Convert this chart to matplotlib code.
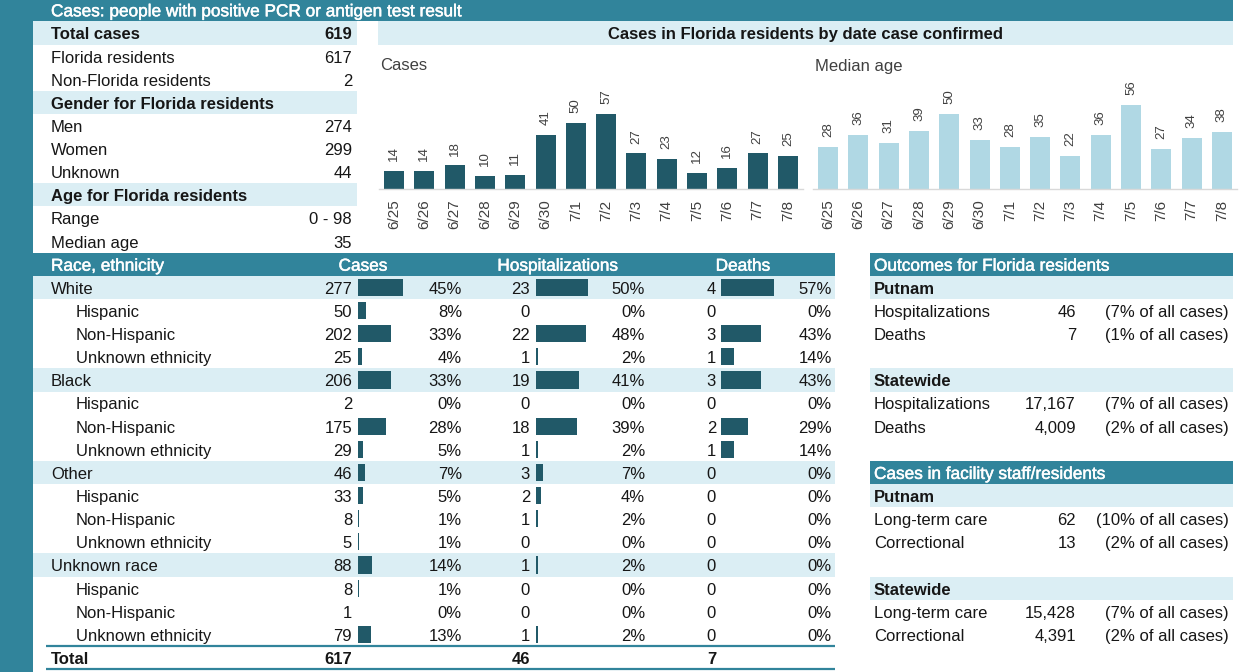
import matplotlib
matplotlib.use('Agg')
import matplotlib.pyplot as plt
import matplotlib.patheffects as pe
from matplotlib.patches import Rectangle

plt.rcParams['font.family'] = ['Liberation Sans', 'DejaVu Sans']

# ---------------- data ----------------
title_text = "Cases: people with positive PCR or antigen test result"
summary_labels = ["Total cases", "Florida residents", "Non-Florida residents",
                  "Gender for Florida residents", "Men", "Women", "Unknown",
                  "Age for Florida residents", "Range", "Median age"]
summary_values = ["619", "617", "2", "", "274", "299", "44", "", "0 - 98", "35"]
summary_headers = [0, 3, 7]

chart_title = "Cases in Florida residents by date case confirmed"
dates = ["6/25", "6/26", "6/27", "6/28", "6/29", "6/30", "7/1", "7/2",
         "7/3", "7/4", "7/5", "7/6", "7/7", "7/8"]
daily_cases = [14, 14, 18, 10, 11, 41, 50, 57, 27, 23, 12, 16, 27, 25]
median_age = [28, 36, 31, 39, 50, 33, 28, 35, 22, 36, 56, 27, 34, 38]

race_labels = ["White", "Hispanic", "Non-Hispanic", "Unknown ethnicity",
               "Black", "Hispanic", "Non-Hispanic", "Unknown ethnicity",
               "Other", "Hispanic", "Non-Hispanic", "Unknown ethnicity",
               "Unknown race", "Hispanic", "Non-Hispanic", "Unknown ethnicity"]
race_level = [0, 1, 1, 1, 0, 1, 1, 1, 0, 1, 1, 1, 0, 1, 1, 1]
race_cases = [277, 50, 202, 25, 206, 2, 175, 29, 46, 33, 8, 5, 88, 8, 1, 79]
race_cases_pct = [45, 8, 33, 4, 33, 0, 28, 5, 7, 5, 1, 1, 14, 1, 0, 13]
race_hosp = [23, 0, 22, 1, 19, 0, 18, 1, 3, 2, 1, 0, 1, 0, 0, 1]
race_hosp_pct = [50, 0, 48, 2, 41, 0, 39, 2, 7, 4, 2, 0, 2, 0, 0, 2]
race_deaths = [4, 0, 3, 1, 3, 0, 2, 1, 0, 0, 0, 0, 0, 0, 0, 0]
race_deaths_pct = [57, 0, 43, 14, 43, 0, 29, 14, 0, 0, 0, 0, 0, 0, 0, 0]
race_totals = [617, 46, 7]

outcome_labels = ["Hospitalizations", "Deaths"]
putnam_outcomes = [46, 7]
putnam_outcomes_pct = [7, 1]
state_outcomes = [17167, 4009]
state_outcomes_pct = [7, 2]

facility_labels = ["Long-term care", "Correctional"]
putnam_facility = [62, 13]
putnam_facility_pct = [10, 2]
state_facility = [15428, 4391]
state_facility_pct = [7, 2]

# ---------------- style ----------------
W, H = 1247, 672
ROW0, RH = 21.44, 23.13
TEAL = '#31849b'
DARK = '#215968'
LIGHT = '#dbeef4'
LBAR = '#b0d8e4'
TXT = '#161616'
GRAY = '#404040'
FS = 12
BASE_OFF = 6.4

fig = plt.figure(figsize=(W / 100, H / 100), dpi=100)
bg = fig.add_axes([0, 0, 1, 1])
bg.set_xlim(0, W)
bg.set_ylim(H, 0)
bg.axis('off')


def rc(k):
    return ROW0 + RH * (k + 0.5)


def band(x0, x1, k0, k1, color):
    bg.add_patch(Rectangle((x0, ROW0 + RH * k0), x1 - x0, RH * (k1 - k0),
                           facecolor=color, edgecolor='none', lw=0))


def txt(x, k, s, ha='left', color=TXT, weight='normal', size=FS):
    bg.text(x, rc(k) + BASE_OFF, s, ha=ha, va='baseline', color=color,
            fontweight=weight, fontsize=size)


def htxt(x, k, s, ha='left'):
    bg.text(x, rc(k) + BASE_OFF, s, ha=ha, va='baseline', color='white',
            fontsize=12.4,
            path_effects=[pe.withStroke(linewidth=0.35, foreground='white')])


def px_axes(x0, y0, w, h):
    return fig.add_axes([x0 / W, 1 - (y0 + h) / H, w / W, h / H])


# frame
bg.add_patch(Rectangle((0, 0), 33, H, facecolor=TEAL, edgecolor='none'))
bg.add_patch(Rectangle((0, 0), 1233, ROW0, facecolor=TEAL, edgecolor='none'))
htxt(51, -1, title_text)

# summary table
for k in summary_headers:
    band(33, 357, k, k + 1, LIGHT)
for k, (lab, val) in enumerate(zip(summary_labels, summary_values)):
    bold = k in summary_headers
    txt(51, k, lab, weight='bold' if bold else 'normal')
    if val:
        txt(352, k, val, ha='right', weight='bold' if k == 0 else 'normal')

# chart header
band(378, 1233, 0, 1, LIGHT)
txt(805, 0, chart_title, ha='center', weight='bold')
bg.text(380, 66, "Cases", ha='left', va='center', color=GRAY, fontsize=FS)
bg.text(815, 66, "Median age", ha='left', va='center', color=GRAY, fontsize=FS)

# race table
band(0, 835, 10, 11, TEAL)
htxt(51, 10, "Race, ethnicity")
htxt(363, 10, "Cases", ha='center')
htxt(558, 10, "Hospitalizations", ha='center')
htxt(743, 10, "Deaths", ha='center')
for i, lab in enumerate(race_labels):
    k = 11 + i
    if race_level[i] == 0:
        band(33, 835, k, k + 1, LIGHT)
    txt(51 if race_level[i] == 0 else 76, k, lab)
    txt(352, k, str(race_cases[i]), ha='right')
    txt(462, k, f"{race_cases_pct[i]}%", ha='right')
    txt(530, k, str(race_hosp[i]), ha='right')
    txt(645, k, f"{race_hosp_pct[i]}%", ha='right')
    txt(716, k, str(race_deaths[i]), ha='right')
    txt(832, k, f"{race_deaths_pct[i]}%", ha='right')
txt(51, 27, "Total", weight='bold')
for x, v in zip([352, 530, 716], race_totals):
    txt(x, 27, str(v), ha='right', weight='bold')
for y in (ROW0 + RH * 27, ROW0 + RH * 28):
    bg.plot([46, 835], [y, y], color=TEAL, lw=1.6, solid_capstyle='butt')

# in-table data bars
ytop = ROW0 + RH * 11
ybot = ROW0 + RH * 27
for vals, x0, wpx in [(race_cases, 358, 45), (race_hosp, 536, 52),
                      (race_deaths, 721, 53)]:
    ax = px_axes(x0, ytop, wpx, ybot - ytop)
    ax.barh(range(len(vals)), vals, height=0.74, color=DARK)
    ax.set_xlim(0, max(vals))
    ax.set_ylim(len(vals) - 0.5, -0.5)
    ax.axis('off')
    ax.patch.set_alpha(0)


# right panel
def panel(k0, header, p_vals, p_pct, s_vals, s_pct, labels):
    band(870, 1233, k0, k0 + 1, TEAL)
    htxt(874, k0, header)
    band(870, 1233, k0 + 1, k0 + 2, LIGHT)
    txt(874, k0 + 1, "Putnam", weight='bold')
    for j in range(2):
        txt(874, k0 + 2 + j, labels[j])
        txt(1076, k0 + 2 + j, f"{p_vals[j]:,}", ha='right')
        txt(1229, k0 + 2 + j, f"({p_pct[j]}% of all cases)", ha='right')
    band(870, 1233, k0 + 5, k0 + 6, LIGHT)
    txt(874, k0 + 5, "Statewide", weight='bold')
    for j in range(2):
        txt(874, k0 + 6 + j, labels[j])
        txt(1076, k0 + 6 + j, f"{s_vals[j]:,}", ha='right')
        txt(1229, k0 + 6 + j, f"({s_pct[j]}% of all cases)", ha='right')


panel(10, "Outcomes for Florida residents", putnam_outcomes, putnam_outcomes_pct,
      state_outcomes, state_outcomes_pct, outcome_labels)
panel(19, "Cases in facility staff/residents", putnam_facility, putnam_facility_pct,
      state_facility, state_facility_pct, facility_labels)

# bar charts
for vals, x0, ymax, color in [(daily_cases, 379, 82.8, DARK),
                              (median_age, 813, 72.7, LBAR)]:
    ax = px_axes(x0, 80, 424, 109)
    bars = ax.bar(range(len(vals)), vals, width=0.66, color=color)
    ax.set_xlim(-0.5, len(vals) - 0.5)
    ax.set_ylim(0, ymax)
    ax.patch.set_alpha(0)
    for s in ('top', 'left', 'right'):
        ax.spines[s].set_visible(False)
    ax.spines['bottom'].set_color('#d9d9d9')
    ax.spines['bottom'].set_linewidth(1.0)
    ax.set_yticks([])
    ax.set_xticks(range(len(vals)), dates, rotation=90, fontsize=11, color=GRAY)
    ax.tick_params(axis='x', length=0, pad=7.5)
    ax.bar_label(bars, padding=7, rotation=90, fontsize=9.5, color=GRAY)

fig.savefig('out.png', dpi=100, facecolor='white')
